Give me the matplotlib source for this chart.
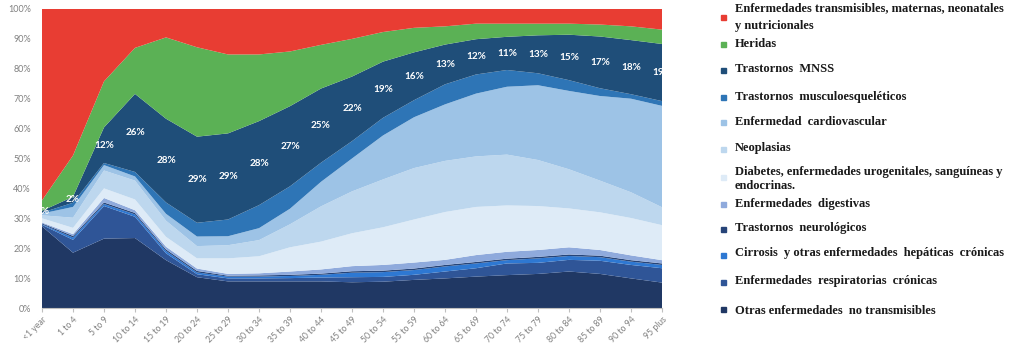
"""Carga de enfermedad por grupo de edad: area apilada al 100 % con leyenda a la derecha."""

import matplotlib

matplotlib.use("Agg")
import matplotlib.pyplot as plt
import numpy as np

AGES = [
    "<1 year", "1 to 4", "5 to 9", "10 to 14", "15 to 19", "20 to 24", "25 to 29",
    "30 to 34", "35 to 39", "40 to 44", "45 to 49", "50 to 54", "55 to 59", "60 to 64",
    "65 to 69", "70 to 74", "75 to 79", "80 to 84", "85 to 89", "90 to 94", "95 plus",
]

# shares in %, stacked from the bottom up
OTRAS = [27.3, 18.5, 23.2, 23.4, 16.0, 10.3, 8.9, 8.9, 8.9, 8.9, 8.6,
         8.8, 9.4, 9.9, 10.5, 11.0, 11.4, 12.2, 11.4, 9.9, 8.5]
RESPIRATORIAS = [0.5, 4.3, 10.9, 7.1, 2.3, 1.0, 1.0, 1.0, 1.1, 1.3, 1.7,
                 1.6, 1.7, 2.3, 2.8, 3.9, 3.7, 3.9, 4.4, 4.5, 4.8]
CIRROSIS = [0.2, 0.8, 0.7, 0.8, 0.8, 0.6, 0.6, 0.6, 0.7, 0.9, 1.5,
            1.6, 1.6, 1.7, 1.6, 1.1, 1.5, 1.3, 1.2, 1.1, 1.1]
NEUROLOGICOS = [0.3, 0.5, 0.5, 0.5, 0.5, 0.5, 0.3, 0.4, 0.4, 0.4, 0.5,
                0.5, 0.5, 0.5, 0.5, 0.5, 0.5, 0.5, 0.5, 0.5, 0.5]
DIGESTIVAS = [0.3, 0.6, 1.5, 0.9, 0.9, 0.8, 0.6, 0.7, 1.1, 1.4, 1.7,
              1.9, 2.0, 1.7, 2.3, 2.3, 2.3, 2.4, 1.9, 1.6, 1.1]
DIABETES = [1.4, 2.1, 3.2, 3.6, 3.3, 3.4, 5.2, 5.7, 8.1, 9.3, 11.0,
            12.6, 14.4, 16.0, 16.1, 15.5, 14.7, 13.0, 12.6, 12.5, 11.7]
NEOPLASIAS = [1.0, 3.4, 6.0, 6.3, 5.4, 4.1, 4.4, 5.4, 7.7, 11.8, 14.0,
              16.0, 17.2, 17.1, 16.9, 17.0, 15.4, 13.1, 10.6, 8.6, 6.0]
CARDIO = [0.6, 3.6, 1.8, 1.4, 2.3, 3.2, 3.0, 4.0, 5.2, 8.2, 11.0,
          14.7, 17.0, 18.9, 21.0, 22.7, 25.0, 26.2, 28.3, 31.3, 33.9]
MUSCULO = [0.3, 1.4, 0.7, 1.5, 3.8, 4.6, 5.6, 7.7, 7.5, 6.4, 5.8,
           5.9, 5.7, 6.7, 6.4, 5.6, 4.0, 3.6, 2.6, 1.5, 1.6]
MNSS = [0.6, 2.0, 11.9, 26.1, 28.0, 28.8, 28.8, 28.1, 26.8, 24.8, 21.6,
        18.8, 16.0, 13.3, 11.8, 11.1, 12.7, 15.2, 17.3, 18.1, 19.1]
HERIDAS = [3.5, 13.8, 15.4, 15.4, 27.2, 29.9, 26.4, 22.3, 18.3, 14.6, 12.6,
           9.9, 8.2, 6.1, 5.2, 4.4, 3.9, 3.7, 4.0, 4.6, 4.8]
TRANSMISIBLES = [64.0, 49.0, 24.2, 13.0, 9.5, 12.8, 15.2, 15.2, 14.2, 12.0, 10.0,
                 7.7, 6.3, 5.8, 4.9, 4.9, 4.9, 4.9, 5.2, 5.8, 6.9]

STACK = [OTRAS, RESPIRATORIAS, CIRROSIS, NEUROLOGICOS, DIGESTIVAS, DIABETES,
         NEOPLASIAS, CARDIO, MUSCULO, MNSS, HERIDAS, TRANSMISIBLES]
COLORS = ["#203864", "#2F5597", "#2E78D2", "#264478", "#8FAADC", "#DEEBF7",
          "#BDD7EE", "#9DC3E6", "#2E75B6", "#1F4E79", "#5BB155", "#E83D33"]

# legend, top to bottom: (colour index in STACK, text lines)
LEGEND = [
    (11, ["Enfermedades transmisibles, maternas, neonatales", "y nutricionales"]),
    (10, ["Heridas"]),
    (9, ["Trastornos  MNSS"]),
    (8, ["Trastornos  musculoesqueléticos"]),
    (7, ["Enfermedad  cardiovascular"]),
    (6, ["Neoplasias"]),
    (5, ["Diabetes, enfermedades urogenitales, sanguíneas y", "endocrinas."]),
    (4, ["Enfermedades  digestivas"]),
    (3, ["Trastornos  neurológicos"]),
    (2, ["Cirrosis  y otras enfermedades  hepáticas  crónicas"]),
    (1, ["Enfermedades  respiratorias  crónicas"]),
    (0, ["Otras enfermedades  no transmisibles"]),
]
# pixel rows of the legend (marker, text lines)
LEGEND_Y = [(17, [8, 26]), (44, [44]), (70, [69]), (97, [97]), (123, [122]),
            (149, [148]), (177, [172, 186]), (204, [204]), (229, [228]),
            (255, [253]), (282, [281]), (309, [311])]

W, H = 1024, 356


def main() -> None:
    data = np.array(STACK, dtype=float)
    data = data / data.sum(axis=0) * 100
    x = np.arange(len(AGES))

    fig = plt.figure(figsize=(W / 100, H / 100), dpi=100)
    ax = fig.add_axes([42 / W, 1 - 308 / H, 620 / W, 299 / H])
    ax.stackplot(x, data, colors=COLORS, linewidth=0)

    below = data[:9].sum(axis=0)
    for i, v in enumerate(data[9]):
        ax.text(i, below[i] + v / 2, f"{v:.0f}%", ha="center", va="center",
                color="white", fontsize=7.2, fontweight="bold", family="Lato",
                clip_on=True)

    ax.set_xlim(0, len(AGES) - 1)
    ax.set_ylim(0, 100)
    ax.set_yticks(np.arange(0, 101, 10))
    ax.set_yticklabels([f"{t}%" for t in range(0, 101, 10)])
    ax.set_xticks(x)
    ax.set_xticklabels(AGES, rotation=45, ha="right", rotation_mode="anchor")
    ax.tick_params(axis="y", length=0, pad=8, labelsize=6.5, labelcolor="#808080")
    ax.tick_params(axis="x", length=3, color="#BFBFBF", pad=2, labelsize=6.2,
                   labelcolor="#808080")
    for lbl in ax.get_xticklabels() + ax.get_yticklabels():
        lbl.set_family("Lato")
    for side in ("top", "left", "right"):
        ax.spines[side].set_visible(False)
    ax.spines["bottom"].set_color("#BFBFBF")
    ax.spines["bottom"].set_linewidth(0.8)

    for (idx, lines), (my, tys) in zip(LEGEND, LEGEND_Y):
        fig.patches.append(plt.Rectangle((721 / W, 1 - (my + 2.5) / H), 5 / W, 5 / H,
                                         transform=fig.transFigure, color=COLORS[idx]))
        for line, ty in zip(lines, tys):
            fig.text(735 / W, 1 - ty / H, line, ha="left", va="center",
                     fontsize=9.0, fontweight="bold", family="Liberation Serif",
                     color="#1A1A1A")

    fig.savefig("out.png", dpi=100)
    plt.close(fig)


if __name__ == "__main__":
    main()
